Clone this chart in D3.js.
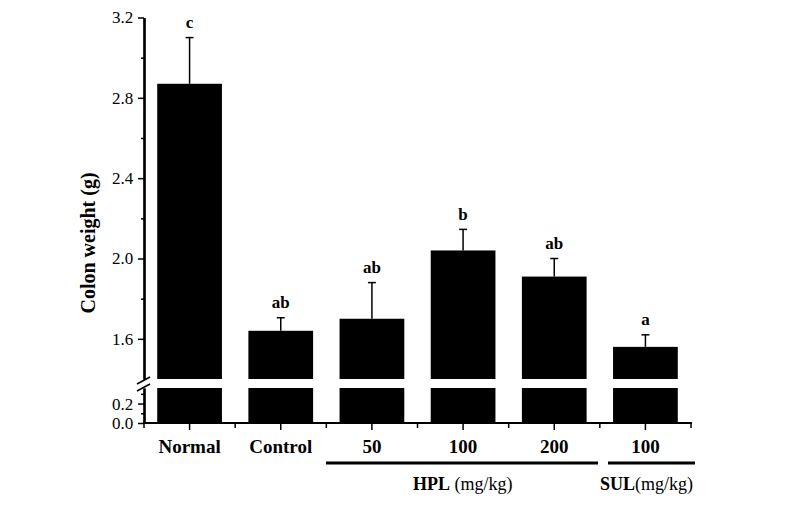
<!DOCTYPE html>
<html><head><meta charset="utf-8">
<script src="https://cdn.jsdelivr.net/npm/d3@7"></script>
<style>body{margin:0;background:#fff}svg{display:block}</style>
</head><body>
<script>
const categories = ["Normal","Control","50","100","200","100"];
const means = [2.87, 1.64, 1.70, 2.04, 1.91, 1.56];
const sds = [0.23, 0.065, 0.18, 0.105, 0.09, 0.06];
const letters = ["c","ab","ab","b","ab","a"];
const upperTicks = [1.6, 2.0, 2.4, 2.8, 3.2];
const upperMinor = [1.8, 2.2, 2.6, 3.0];
const lowerTicks = [0.0, 0.2];
const lowerMinor = [0.1, 0.3];

const W = 802, H = 517;
const svg = d3.select("body").append("svg").attr("width", W).attr("height", H);
const font = "'Liberation Serif','Times New Roman',serif";

const x = d3.scaleBand().domain(d3.range(categories.length)).range([144, 691]).paddingInner(0.29).paddingOuter(0.145);
const yU = d3.scaleLinear().domain([1.4, 3.2]).range([379, 17.5]);
const yL = d3.scaleLinear().domain([0, 0.36]).range([423, 388]);

// bars
const g = svg.append("g");
categories.forEach((c, i) => {
  g.append("rect").attr("x", x(i)).attr("width", x.bandwidth())
    .attr("y", yU(means[i])).attr("height", yU(1.4) - yU(means[i])).attr("fill", "#000");
  g.append("rect").attr("x", x(i)).attr("width", x.bandwidth())
    .attr("y", yL(0.36)).attr("height", yL(0) - yL(0.36)).attr("fill", "#000");
  const cx = x(i) + x.bandwidth() / 2;
  const top = yU(means[i] + sds[i]);
  g.append("line").attr("x1", cx).attr("x2", cx).attr("y1", yU(means[i])).attr("y2", top)
    .attr("stroke", "#000").attr("stroke-width", 1.5);
  g.append("line").attr("x1", cx - 4).attr("x2", cx + 4).attr("y1", top).attr("y2", top)
    .attr("stroke", "#000").attr("stroke-width", 1.5);
  g.append("text").attr("x", cx).attr("y", top - 9.5).attr("text-anchor", "middle")
    .attr("font-family", font).attr("font-weight", "bold").attr("font-size", 17).text(letters[i]);
});

// y axes
const axU = d3.axisLeft(yU).tickValues(upperTicks).tickFormat(d3.format(".1f")).tickSize(6).tickSizeOuter(0);
const axUm = d3.axisLeft(yU).tickValues(upperMinor).tickFormat("").tickSize(3).tickSizeOuter(0);
const axL = d3.axisLeft(yL).tickValues(lowerTicks).tickFormat(d3.format(".1f")).tickSize(6).tickSizeOuter(0);
const axLm = d3.axisLeft(yL).tickValues(lowerMinor).tickFormat("").tickSize(3).tickSizeOuter(0);
function styleAxis(sel) {
  sel.select(".domain").attr("stroke-width", 2.2);
  sel.selectAll(".tick line").attr("stroke-width", 1.5);
  sel.selectAll(".tick text").attr("font-family", font).attr("font-size", 17).attr("fill", "#000").attr("dx", "-0.1em");
}
[axU, axUm].forEach(a => svg.append("g").attr("transform", "translate(144,0)").call(a).call(styleAxis));
[axL, axLm].forEach(a => svg.append("g").attr("transform", "translate(144,0)").call(a).call(styleAxis));

// break marks
svg.append("line").attr("x1", 137).attr("y1", 384).attr("x2", 150).attr("y2", 377).attr("stroke", "#000").attr("stroke-width", 1.6);
svg.append("line").attr("x1", 137).attr("y1", 391).attr("x2", 150).attr("y2", 384).attr("stroke", "#000").attr("stroke-width", 1.6);

// x axis
const xAxis = svg.append("g").attr("transform", "translate(0,423)");
xAxis.append("line").attr("x1", 143).attr("x2", 692).attr("stroke", "#000").attr("stroke-width", 2.2);
categories.forEach((c, i) => {
  const cx = x(i) + x.bandwidth() / 2;
  xAxis.append("line").attr("x1", cx).attr("x2", cx).attr("y1", 0).attr("y2", 7).attr("stroke", "#000").attr("stroke-width", 1.5);
  const b = x(i) - x.step() * x.paddingInner() / 2;
  xAxis.append("line").attr("x1", b).attr("x2", b).attr("y1", 0).attr("y2", 5).attr("stroke", "#000").attr("stroke-width", 1.5);
  xAxis.append("text").attr("x", cx).attr("y", 30).attr("text-anchor", "middle")
    .attr("font-family", font).attr("font-weight", "bold").attr("font-size", 19).text(c);
});
const lastB = x(categories.length - 1) + x.bandwidth() + x.step() * x.paddingInner() / 2;
xAxis.append("line").attr("x1", lastB).attr("x2", lastB).attr("y1", 0).attr("y2", 5).attr("stroke", "#000").attr("stroke-width", 1.5);

// group lines
svg.append("line").attr("x1", 326).attr("x2", 598).attr("y1", 463).attr("y2", 463).attr("stroke", "#000").attr("stroke-width", 3);
svg.append("line").attr("x1", 608).attr("x2", 695).attr("y1", 463).attr("y2", 463).attr("stroke", "#000").attr("stroke-width", 3);
const t1 = svg.append("text").attr("x", 413).attr("y", 490).attr("font-family", font).attr("font-size", 18);
t1.append("tspan").attr("font-weight", "bold").text("HPL");
t1.append("tspan").text(" (mg/kg)");
const t2 = svg.append("text").attr("x", 600).attr("y", 490).attr("font-family", font).attr("font-size", 18);
t2.append("tspan").attr("font-weight", "bold").text("SUL");
t2.append("tspan").text("(mg/kg)");

// y label
svg.append("text").attr("transform", "translate(95,243) rotate(-90)").attr("text-anchor", "middle")
  .attr("font-family", font).attr("font-weight", "bold").attr("font-size", 20).text("Colon weight (g)");
</script>
</body></html>
